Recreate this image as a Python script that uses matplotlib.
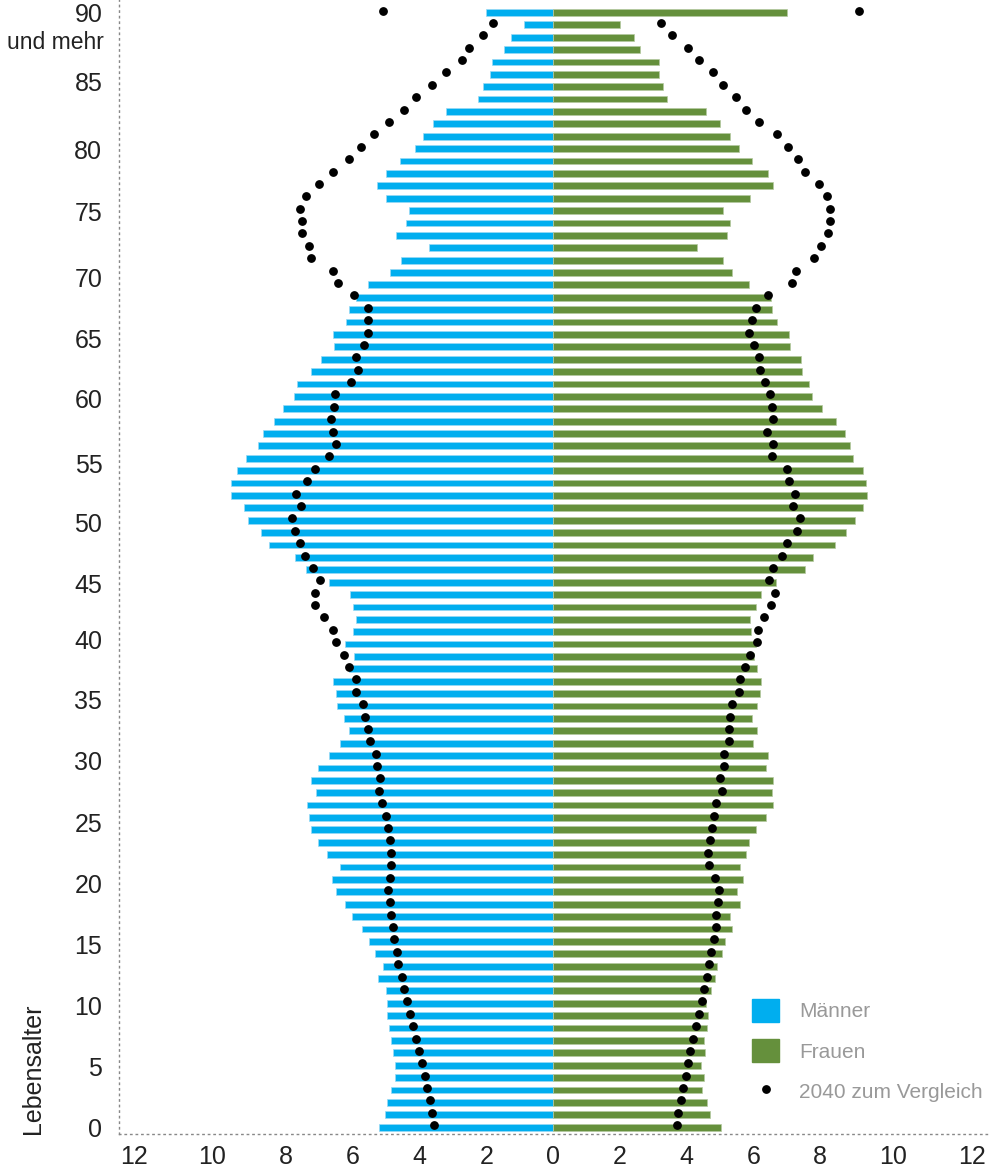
import matplotlib
matplotlib.use("Agg")
import matplotlib.pyplot as plt
from matplotlib.patches import Patch
from matplotlib.lines import Line2D
import numpy as np

# population share per age (0 .. 90 und mehr)
ages = np.arange(0, 91)

maenner = [5.22, 5.03, 4.97, 4.86, 4.74, 4.72, 4.80, 4.84, 4.91, 4.97,
           4.97, 5.01, 5.24, 5.09, 5.34, 5.51, 5.72, 6.01, 6.24, 6.51,
           6.62, 6.39, 6.78, 7.03, 7.26, 7.30, 7.37, 7.09, 7.24, 7.03,
           6.70, 6.39, 6.12, 6.26, 6.47, 6.49, 6.60, 6.12, 5.95, 6.24,
           5.99, 5.89, 5.99, 6.08, 6.70, 7.39, 7.72, 8.50, 8.75, 9.14,
           9.27, 9.64, 9.64, 9.48, 9.19, 8.83, 8.68, 8.37, 8.08, 7.77,
           7.66, 7.26, 6.95, 6.55, 6.60, 6.20, 6.10, 5.91, 5.55, 4.88,
           4.55, 3.72, 4.70, 4.41, 4.32, 4.99, 5.28, 5.01, 4.59, 4.13,
           3.90, 3.59, 3.21, 2.25, 2.11, 1.88, 1.82, 1.46, 1.27, 0.88,
           2.00]

frauen = [5.03, 4.70, 4.61, 4.45, 4.51, 4.43, 4.55, 4.51, 4.61, 4.64,
          4.57, 4.72, 4.86, 4.91, 5.07, 5.14, 5.36, 5.30, 5.59, 5.51,
          5.70, 5.59, 5.78, 5.87, 6.07, 6.39, 6.58, 6.55, 6.58, 6.37,
          6.45, 5.99, 6.10, 5.97, 6.10, 6.20, 6.22, 6.10, 6.03, 6.08,
          5.93, 5.89, 6.07, 6.22, 6.68, 7.56, 7.79, 8.46, 8.77, 9.06,
          9.29, 9.42, 9.39, 9.29, 8.98, 8.91, 8.75, 8.48, 8.06, 7.75,
          7.66, 7.45, 7.43, 7.10, 7.08, 6.72, 6.55, 6.53, 5.87, 5.36,
          5.09, 4.30, 5.20, 5.30, 5.09, 5.89, 6.60, 6.45, 5.97, 5.57,
          5.30, 4.99, 4.59, 3.40, 3.28, 3.19, 3.17, 2.61, 2.42, 2.02,
          7.00]

# 2040 comparison (dots)
maenner_2040 = [3.55, 3.61, 3.69, 3.76, 3.84, 3.93, 4.01, 4.09, 4.18, 4.28,
                4.38, 4.45, 4.53, 4.63, 4.68, 4.76, 4.80, 4.84, 4.88, 4.93,
                4.89, 4.84, 4.84, 4.88, 4.93, 4.99, 5.12, 5.20, 5.18, 5.28,
                5.30, 5.49, 5.55, 5.62, 5.68, 5.91, 5.91, 6.12, 6.26, 6.49,
                6.60, 6.85, 7.12, 7.14, 6.99, 7.20, 7.43, 7.58, 7.72, 7.81,
                7.56, 7.70, 7.37, 7.14, 6.70, 6.51, 6.58, 6.64, 6.56, 6.53,
                6.05, 5.83, 5.91, 5.66, 5.55, 5.53, 5.53, 5.95, 6.45, 6.60,
                7.26, 7.31, 7.52, 7.52, 7.58, 7.39, 7.02, 6.58, 6.12, 5.76,
                5.36, 4.91, 4.47, 4.11, 3.63, 3.21, 2.74, 2.51, 2.09, 1.80,
                5.09]

frauen_2040 = [3.70, 3.74, 3.82, 3.90, 3.97, 4.03, 4.11, 4.20, 4.28, 4.38,
               4.47, 4.53, 4.61, 4.68, 4.74, 4.82, 4.88, 4.89, 4.93, 4.97,
               4.84, 4.68, 4.64, 4.70, 4.76, 4.82, 4.89, 5.05, 4.99, 5.12,
               5.12, 5.26, 5.26, 5.30, 5.37, 5.57, 5.60, 5.74, 5.89, 6.10,
               6.14, 6.33, 6.53, 6.64, 6.47, 6.58, 6.85, 7.02, 7.31, 7.39,
               7.20, 7.26, 7.08, 7.02, 6.56, 6.60, 6.41, 6.58, 6.56, 6.51,
               6.35, 6.20, 6.18, 6.03, 5.87, 5.97, 6.07, 6.45, 7.16, 7.29,
               7.83, 8.04, 8.23, 8.29, 8.29, 8.21, 7.98, 7.54, 7.33, 7.04,
               6.70, 6.16, 5.78, 5.47, 5.09, 4.80, 4.36, 4.05, 3.57, 3.24,
               9.16]

xtick_pos = [-12.55, -10.2, -8, -6, -4, -2, 0, 2, 4, 6, 8, 10.2, 12.55]
xtick_lab = ['12', '10', '8', '6', '4', '2', '0', '2', '4', '6', '8', '10', '12']
ytick_pos = [0, 4.93, 9.85, 14.78, 19.7, 24.6, 29.6, 34.5, 39.4, 43.9,
             48.8, 53.6, 58.8, 63.7, 68.6, 73.9, 78.9, 84.4, 90.0]
ytick_lab = ['0', '5', '10', '15', '20', '25', '30', '35', '40', '45',
             '50', '55', '60', '65', '70', '75', '80', '85', '90']

blau = '#00aeef'
gruen = '#65903c'
schrift = ['Liberation Sans', 'DejaVu Sans']

fig = plt.figure(figsize=(10, 11.69), dpi=100)
ax = fig.add_axes([0.119, 0.03, 0.868, 0.97])

ax.barh(ages, -np.array(maenner), height=0.55, color=blau,
        edgecolor='#9ad9f5', linewidth=0.5)
ax.barh(ages, frauen, height=0.55, color=gruen,
        edgecolor='#b5c9a0', linewidth=0.5)
ax.plot(-np.array(maenner_2040), ages + 0.15, 'o', color='black', ms=5.3)
ax.plot(frauen_2040, ages + 0.15, 'o', color='black', ms=5.3)

ax.set_xlim(-13, 13)
ax.set_ylim(-0.55, 91)
ax.set_xticks(xtick_pos)
ax.set_xticklabels(xtick_lab, family=schrift, fontsize=18, color='#222222')
ax.set_yticks(ytick_pos)
ax.set_yticklabels(ytick_lab, family=schrift, fontsize=18, color='#222222')
ax.tick_params(axis='x', length=0, pad=8)
ax.tick_params(axis='y', length=0, pad=12)

for s in ['top', 'right']:
    ax.spines[s].set_visible(False)
for s in ['left', 'bottom']:
    ax.spines[s].set_linestyle((0, (1, 3)))
    ax.spines[s].set_color('#888888')
    ax.spines[s].set_linewidth(1)

ax.text(-0.017, 87.6, 'und mehr', transform=ax.get_yaxis_transform(),
        ha='right', va='center', family=schrift, fontsize=16.5, color='#222222')

fig.text(0.033, 0.086, 'Lebensalter', rotation=90, ha='center', va='center',
         family=schrift, fontsize=18, color='#222222')

handles = [Patch(color=blau), Patch(color=gruen),
           Line2D([], [], marker='o', color='black', ls='none', ms=5.3)]
fig.legend(handles, ['Männer', 'Frauen', '2040 zum Vergleich'],
           loc='upper left', bbox_to_anchor=(0.752, 1 - 999 / 1169),
           frameon=False, prop={'family': schrift, 'size': 15},
           labelcolor='#999999', handlelength=1.3, handleheight=1.3,
           handletextpad=0.95, labelspacing=0.85, borderpad=0,
           borderaxespad=0)

plt.savefig('out.png', dpi=100)
